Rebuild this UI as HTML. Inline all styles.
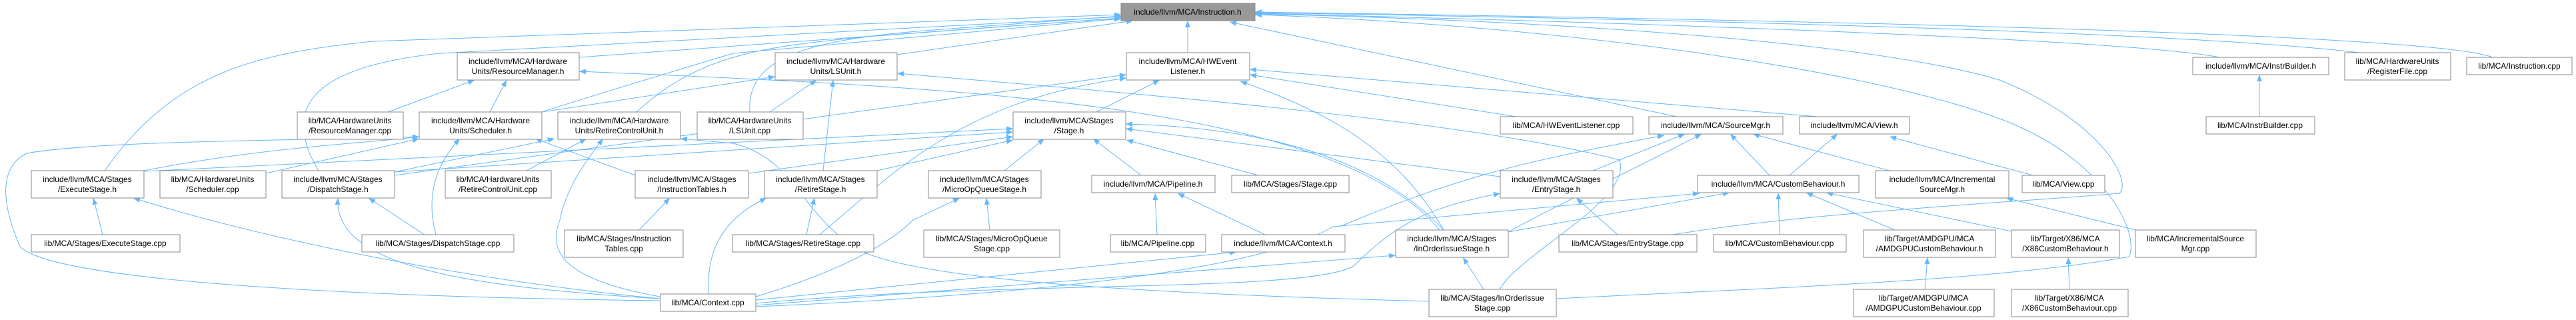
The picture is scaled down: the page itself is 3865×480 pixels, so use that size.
<!DOCTYPE html>
<html><head><meta charset="utf-8"><style>
html,body{margin:0;padding:0;background:#fff;}
svg{display:block;}
text{font-family:"Liberation Sans",Arial,sans-serif;font-size:12px;fill:#000;text-anchor:middle;}
.n{fill:#fff;stroke:#888;stroke-width:1;}
.e{fill:none;stroke:#63b8ff;stroke-width:1;}
</style></head><body>
<svg width="3865" height="480" viewBox="0 0 3865 480" xmlns="http://www.w3.org/2000/svg">
<defs><marker id="a" viewBox="0 0 10 8" refX="10" refY="4" markerWidth="10" markerHeight="8" markerUnits="userSpaceOnUse" orient="auto"><path d="M0,0 L10,4 L0,8 z" fill="#63b8ff"/></marker></defs>
<g class="e" marker-end="url(#a)">
<!-- to Instruction.h -->
<path d="M157,256 C260,110 380,80 560,62 L1682,22"/>
<path d="M478,256 C420,160 470,100 660,80 L1682,25"/>
<path d="M869,86 L1682,27"/>
<path d="M813,168 C900,140 1000,110 1100,80 L1682,28"/>
<path d="M955,168 C1050,80 1150,70 1300,55 L1682,27"/>
<path d="M1346,82 L1700,31"/>
<path d="M1125,168 C1120,90 1200,60 1400,45 L1682,24"/>
<path d="M1782,79 L1782,31"/>
<path d="M2516,175 L1845,33"/>
<path d="M3330,86 C3200,60 2500,35 1883,20"/>
<path d="M3540,79 C3300,50 2600,30 1883,19"/>
<path d="M3740,86 C3650,50 2700,30 1883,18"/>
<path d="M2510,352 C2700,320 3000,305 3180,290 C3200,270 3150,180 3000,120 C2800,60 2300,30 1883,21"/>
<path d="M2335,448 C2700,430 3000,420 3195,385 C3210,340 3150,250 3050,200 C2900,120 2400,40 1883,22"/>
<!-- ResourceManager.h -->
<path d="M582,168 L712,120"/>
<path d="M735,168 L760,120"/>
<path d="M2160,345 C2000,150 1400,130 869,107"/>
<!-- LSUnit.h -->
<path d="M1155,168 L1225,120"/>
<path d="M1235,256 L1250,120"/>
<path d="M813,168 L1163,115"/>
<path d="M2250,434 C2280,380 2450,300 2430,240 C2200,180 1700,140 1346,110"/>
<!-- HWEventListener.h -->
<path d="M1645,168 L1740,120"/>
<path d="M2727,175 L1875,104"/>
<path d="M2275,175 L1875,112"/>
<path d="M2166,345 C2100,230 2000,170 1861,122"/>
<path d="M592,263 L1690,112"/>
<path d="M1230,352 C1350,250 1450,150 1690,117"/>
<!-- Stage.h -->
<path d="M216,257 L1520,193"/>
<path d="M592,258 L1520,198"/>
<path d="M1123,260 L1520,205"/>
<path d="M1316,256 L1520,210"/>
<path d="M1507,256 L1567,208"/>
<path d="M1712,263 L1640,208"/>
<path d="M1888,263 L1690,210"/>
<path d="M2251,265 L1689,193"/>
<path d="M2166,345 C2050,220 1850,190 1689,186"/>
<!-- Scheduler.h -->
<path d="M216,256 C400,220 550,215 629,205"/>
<path d="M399,260 L629,208"/>
<path d="M990,451 C500,445 80,420 30,370 C0,300 0,250 40,230 C150,210 500,210 629,205"/>
<path d="M654,352 C640,300 650,250 690,208"/>
<path d="M953,263 L803,208"/>
<!-- RetireControlUnit.h -->
<path d="M592,258 L832,208"/>
<path d="M790,256 L880,208"/>
<path d="M990,445 C850,420 820,380 840,330 C850,280 880,240 905,208"/>
<path d="M2144,452 C1700,440 1400,420 1300,380 C1200,330 1200,240 1100,215 L1021,208"/>
<!-- bottom level -->
<path d="M637,352 L553,297"/>
<path d="M990,448 C700,430 500,400 507,297"/>
<path d="M154,352 L140,297"/>
<path d="M990,448 C700,420 400,360 200,297"/>
<path d="M959,345 L1005,297"/>
<path d="M1210,352 L1222,297"/>
<path d="M1063,441 C1060,380 1080,330 1150,297"/>
<path d="M1485,345 L1480,297"/>
<path d="M1134,445 C1250,410 1330,370 1370,330 L1440,297"/>
<path d="M1736,352 L1733,290"/>
<path d="M1898,352 L1767,290"/>
<path d="M1134,450 L1855,378"/>
<path d="M2427,352 L2365,297"/>
<path d="M1134,455 C1500,420 1950,440 2030,400 C2100,330 2150,310 2251,290"/>
<!-- SourceMgr.h -->
<path d="M2390,256 L2528,201"/>
<path d="M2263,348 C2350,300 2420,270 2553,201"/>
<path d="M2655,263 L2596,201"/>
<path d="M2835,256 L2630,201"/>
<path d="M2010,340 C2200,260 2300,240 2497,203"/>
<!-- View.h -->
<path d="M2685,263 L2757,201"/>
<path d="M3050,263 L2835,205"/>
<!-- CustomBehaviour.h -->
<path d="M1134,460 C1600,440 1900,400 2000,340 L2550,290"/>
<path d="M2263,348 L2595,289"/>
<path d="M2670,352 L2668,289"/>
<path d="M2843,345 L2710,289"/>
<path d="M3018,347 L2740,289"/>
<!-- others -->
<path d="M3204,345 L3010,297"/>
<path d="M2226,434 L2195,386"/>
<path d="M1134,458 L2094,383"/>
<path d="M2888,434 L2892,386"/>
<path d="M3105,434 L3103,386"/>
<path d="M3390,175 L3390,112"/>
</g>
<g>
<rect class="n" x="1682" y="5" width="201" height="26" style="fill:#999"/><text x="1782" y="22">include/llvm/MCA/Instruction.h</text>
<rect class="n" x="686" y="79" width="183" height="41"/><text x="777" y="96">include/llvm/MCA/Hardware</text><text x="777" y="111">Units/ResourceManager.h</text>
<rect class="n" x="1163" y="79" width="183" height="41"/><text x="1254" y="96">include/llvm/MCA/Hardware</text><text x="1254" y="111">Units/LSUnit.h</text>
<rect class="n" x="1690" y="79" width="185" height="41"/><text x="1782" y="96">include/llvm/MCA/HWEvent</text><text x="1782" y="111">Listener.h</text>
<rect class="n" x="3290" y="86" width="204" height="26"/><text x="3392" y="103">include/llvm/MCA/InstrBuilder.h</text>
<rect class="n" x="3518" y="79" width="159" height="41"/><text x="3597" y="96">lib/MCA/HardwareUnits</text><text x="3597" y="111">/RegisterFile.cpp</text>
<rect class="n" x="3701" y="86" width="158" height="26"/><text x="3780" y="103">lib/MCA/Instruction.cpp</text>
<rect class="n" x="446" y="168" width="159" height="41"/><text x="525" y="185">lib/MCA/HardwareUnits</text><text x="525" y="200">/ResourceManager.cpp</text>
<rect class="n" x="629" y="168" width="184" height="41"/><text x="721" y="185">include/llvm/MCA/Hardware</text><text x="721" y="200">Units/Scheduler.h</text>
<rect class="n" x="837" y="168" width="184" height="41"/><text x="929" y="185">include/llvm/MCA/Hardware</text><text x="929" y="200">Units/RetireControlUnit.h</text>
<rect class="n" x="1046" y="168" width="159" height="41"/><text x="1125" y="185">lib/MCA/HardwareUnits</text><text x="1125" y="200">/LSUnit.cpp</text>
<rect class="n" x="1520" y="168" width="169" height="41"/><text x="1604" y="185">include/llvm/MCA/Stages</text><text x="1604" y="200">/Stage.h</text>
<rect class="n" x="2251" y="175" width="199" height="26"/><text x="2350" y="192">lib/MCA/HWEventListener.cpp</text>
<rect class="n" x="2474" y="175" width="201" height="26"/><text x="2574" y="192">include/llvm/MCA/SourceMgr.h</text>
<rect class="n" x="2700" y="175" width="165" height="26"/><text x="2782" y="192">include/llvm/MCA/View.h</text>
<rect class="n" x="3310" y="175" width="163" height="26"/><text x="3391" y="192">lib/MCA/InstrBuilder.cpp</text>
<rect class="n" x="47" y="256" width="169" height="41"/><text x="131" y="273">include/llvm/MCA/Stages</text><text x="131" y="288">/ExecuteStage.h</text>
<rect class="n" x="240" y="256" width="159" height="41"/><text x="319" y="273">lib/MCA/HardwareUnits</text><text x="319" y="288">/Scheduler.cpp</text>
<rect class="n" x="423" y="256" width="169" height="41"/><text x="507" y="273">include/llvm/MCA/Stages</text><text x="507" y="288">/DispatchStage.h</text>
<rect class="n" x="668" y="256" width="159" height="41"/><text x="747" y="273">lib/MCA/HardwareUnits</text><text x="747" y="288">/RetireControlUnit.cpp</text>
<rect class="n" x="953" y="256" width="170" height="41"/><text x="1038" y="273">include/llvm/MCA/Stages</text><text x="1038" y="288">/InstructionTables.h</text>
<rect class="n" x="1147" y="256" width="169" height="41"/><text x="1231" y="273">include/llvm/MCA/Stages</text><text x="1231" y="288">/RetireStage.h</text>
<rect class="n" x="1393" y="256" width="169" height="41"/><text x="1477" y="273">include/llvm/MCA/Stages</text><text x="1477" y="288">/MicroOpQueueStage.h</text>
<rect class="n" x="1638" y="263" width="185" height="26"/><text x="1730" y="280">include/llvm/MCA/Pipeline.h</text>
<rect class="n" x="1848" y="263" width="176" height="26"/><text x="1936" y="280">lib/MCA/Stages/Stage.cpp</text>
<rect class="n" x="2251" y="256" width="169" height="41"/><text x="2335" y="273">include/llvm/MCA/Stages</text><text x="2335" y="288">/EntryStage.h</text>
<rect class="n" x="2547" y="263" width="242" height="26"/><text x="2668" y="280">include/llvm/MCA/CustomBehaviour.h</text>
<rect class="n" x="2814" y="256" width="200" height="41"/><text x="2914" y="273">include/llvm/MCA/Incremental</text><text x="2914" y="288">SourceMgr.h</text>
<rect class="n" x="3034" y="263" width="124" height="26"/><text x="3096" y="280">lib/MCA/View.cpp</text>
<rect class="n" x="47" y="352" width="223" height="26"/><text x="158" y="369">lib/MCA/Stages/ExecuteStage.cpp</text>
<rect class="n" x="543" y="352" width="228" height="26"/><text x="657" y="369">lib/MCA/Stages/DispatchStage.cpp</text>
<rect class="n" x="847" y="345" width="178" height="41"/><text x="936" y="362">lib/MCA/Stages/Instruction</text><text x="936" y="377">Tables.cpp</text>
<rect class="n" x="1099" y="352" width="212" height="26"/><text x="1205" y="369">lib/MCA/Stages/RetireStage.cpp</text>
<rect class="n" x="1386" y="345" width="204" height="41"/><text x="1488" y="362">lib/MCA/Stages/MicroOpQueue</text><text x="1488" y="377">Stage.cpp</text>
<rect class="n" x="1666" y="352" width="143" height="26"/><text x="1737" y="369">lib/MCA/Pipeline.cpp</text>
<rect class="n" x="1833" y="352" width="185" height="26"/><text x="1925" y="369">include/llvm/MCA/Context.h</text>
<rect class="n" x="2094" y="345" width="169" height="41"/><text x="2178" y="362">include/llvm/MCA/Stages</text><text x="2178" y="377">/InOrderIssueStage.h</text>
<rect class="n" x="2339" y="352" width="207" height="26"/><text x="2442" y="369">lib/MCA/Stages/EntryStage.cpp</text>
<rect class="n" x="2571" y="352" width="199" height="26"/><text x="2670" y="369">lib/MCA/CustomBehaviour.cpp</text>
<rect class="n" x="2796" y="345" width="198" height="41"/><text x="2895" y="362">lib/Target/AMDGPU/MCA</text><text x="2895" y="377">/AMDGPUCustomBehaviour.h</text>
<rect class="n" x="3018" y="345" width="162" height="41"/><text x="3099" y="362">lib/Target/X86/MCA</text><text x="3099" y="377">/X86CustomBehaviour.h</text>
<rect class="n" x="3204" y="345" width="181" height="41"/><text x="3294" y="362">lib/MCA/IncrementalSource</text><text x="3294" y="377">Mgr.cpp</text>
<rect class="n" x="991" y="441" width="143" height="26"/><text x="1062" y="458">lib/MCA/Context.cpp</text>
<rect class="n" x="2144" y="434" width="191" height="41"/><text x="2239" y="451">lib/MCA/Stages/InOrderIssue</text><text x="2239" y="466">Stage.cpp</text>
<rect class="n" x="2781" y="434" width="211" height="41"/><text x="2886" y="451">lib/Target/AMDGPU/MCA</text><text x="2886" y="466">/AMDGPUCustomBehaviour.cpp</text>
<rect class="n" x="3018" y="434" width="175" height="41"/><text x="3105" y="451">lib/Target/X86/MCA</text><text x="3105" y="466">/X86CustomBehaviour.cpp</text>
</g>
</svg>
</body></html>
